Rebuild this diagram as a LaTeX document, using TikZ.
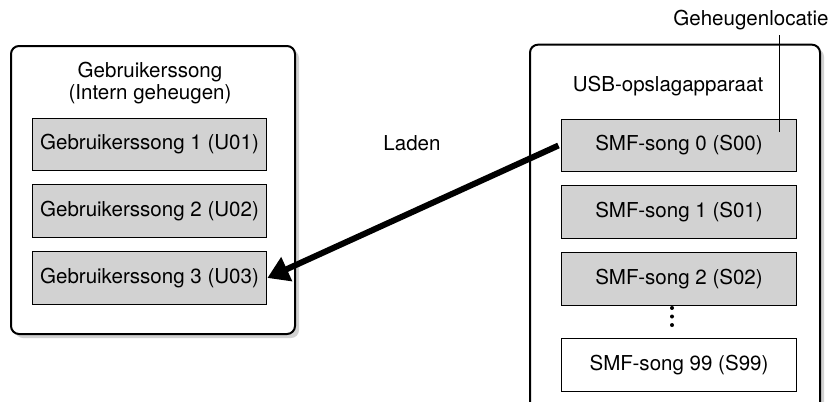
\documentclass[tikz,border=0pt]{standalone}
\usepackage{fontspec}
\setmainfont{TeX Gyre Heros}
\usetikzlibrary{arrows.meta,positioning,shadows}

\begin{document}
\begin{tikzpicture}[
    x=0.75pt, y=-0.75pt,
    node distance=9.75pt,
    panel/.style={draw, line width=1.5pt, rounded corners=6pt, fill=white,
        drop shadow={shadow xshift=3pt, shadow yshift=-3pt, fill=gray!35, opacity=1}},
    song/.style={draw, line width=0.8pt, fill=gray!35, minimum width=176pt, minimum height=39.5pt, font=\fontsize{15.4}{16.5}\selectfont},
    label/.style={align=center, font=\fontsize{15.4}{16.5}\selectfont},
    load/.style={-{Triangle[length=16pt, width=19pt]}, line width=4.5pt}
]
\clip (0,0) rectangle (838,401);
% panels
\node[panel, minimum width=213pt, minimum height=216pt] (intern) at (153,190) {};
\node[panel, minimum width=217.5pt, minimum height=296pt] (usb) at (675,242) {};
\node[label] (interntitle) at (150,83) {Gebruikerssong\\(Intern geheugen)};
\node[label] (usbtitle) at (668,86) {USB-opslagapparaat};
% songs in internal memory
\node[song] (u1) at (149.5,144.5) {Gebruikerssong 1 (U01)};
\node[song, below=of u1] (u2) {Gebruikerssong 2 (U02)};
\node[song, below=of u2] (u3) {Gebruikerssong 3 (U03)};
% songs on the usb device
\node[song] (s0) at (679,145.5) {SMF-song 0 (S00)};
\node[song, below=of s0] (s1) {SMF-song 1 (S01)};
\node[song, below=of s1] (s2) {SMF-song 2 (S02)};
\node[song, below=24pt of s2, fill=white] (s99) {SMF-song 99 (S99)};
\coordinate (dots) at (672,316.5);
\foreach \d in {-6.4,0,6.4}
    \fill ([yshift=\d pt]dots) circle (1.5pt);
% labels
\node[label] (laden) at (412,143) {Laden};
\node[label] (locatie) at (751,20) {Geheugenlocatie};
\coordinate (loc) at (779,132);
\draw[line width=0.6pt] (loc) -- (loc |- locatie.south);
\draw[load] ([xshift=-2pt]s0.west) -- (u3.east);
\end{tikzpicture}
\end{document}
